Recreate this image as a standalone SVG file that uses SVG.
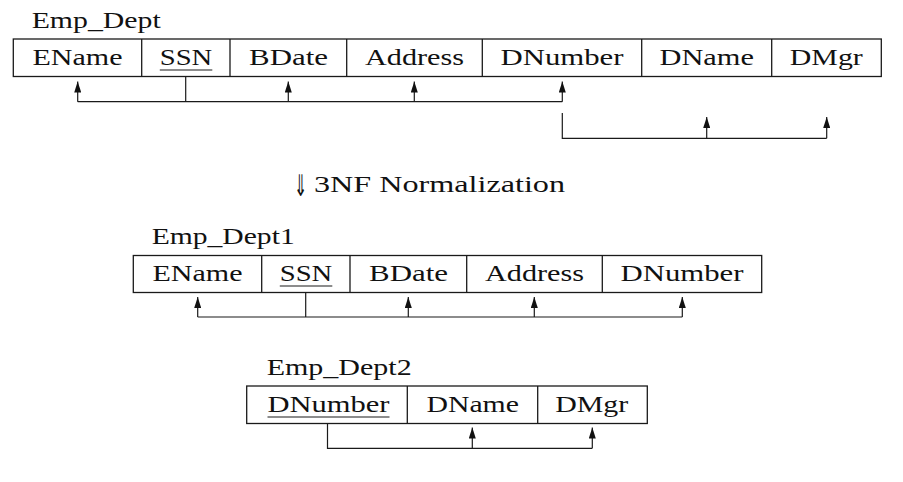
<svg xmlns="http://www.w3.org/2000/svg" width="903" height="482" viewBox="0 0 903 482">
<style>
  .cell { fill: none; stroke: #1a1a1a; stroke-width: 1.3; }
  .t { font-family: "Liberation Serif", "Times New Roman", serif; font-size: 24px; fill: #111; text-anchor: middle; }
  .lbl { font-family: "Liberation Serif", "Times New Roman", serif; font-size: 24px; fill: #111; }
  .sym { font-family: "DejaVu Sans", sans-serif; font-size: 22px; fill: #111; }
  .ul { stroke: #1a1a1a; stroke-width: 1.2; }
  .conn { fill: none; stroke: #1a1a1a; stroke-width: 1.2; }
  .arr { fill: none; stroke: #1a1a1a; stroke-width: 1.2; marker-end: url(#ah); }
</style>
<defs>
  <marker id="ah" viewBox="0 0 11 7" refX="11" refY="3.5" markerWidth="11" markerHeight="7" markerUnits="userSpaceOnUse" orient="auto">
    <path d="M0,0 L11,3.5 L0,7 z" fill="#111"/>
  </marker>
</defs>
<rect width="903" height="482" fill="#fff"/>

<g id="emp_dept">
  <text class="lbl" x="31.7" y="28.3" textLength="129" lengthAdjust="spacingAndGlyphs">Emp_Dept</text>
  <rect class="cell" x="13.3" y="39" width="868" height="37.5"/>
  <line class="cell" x1="141.7" y1="39" x2="141.7" y2="76.5"/>
  <line class="cell" x1="230" y1="39" x2="230" y2="76.5"/>
  <line class="cell" x1="346.7" y1="39" x2="346.7" y2="76.5"/>
  <line class="cell" x1="482.3" y1="39" x2="482.3" y2="76.5"/>
  <line class="cell" x1="641.7" y1="39" x2="641.7" y2="76.5"/>
  <line class="cell" x1="771.7" y1="39" x2="771.7" y2="76.5"/>
  <text class="t" x="77.5" y="65" textLength="90" lengthAdjust="spacingAndGlyphs">EName</text>
  <text class="t" x="186" y="65" textLength="52.5" lengthAdjust="spacingAndGlyphs">SSN</text>
  <line class="ul" x1="159.8" y1="70" x2="212.3" y2="70"/>
  <text class="t" x="288.5" y="65" textLength="79" lengthAdjust="spacingAndGlyphs">BDate</text>
  <text class="t" x="414.5" y="65" textLength="99" lengthAdjust="spacingAndGlyphs">Address</text>
  <text class="t" x="562" y="65" textLength="123" lengthAdjust="spacingAndGlyphs">DNumber</text>
  <text class="t" x="706.7" y="65" textLength="94.5" lengthAdjust="spacingAndGlyphs">DName</text>
  <text class="t" x="826.3" y="65" textLength="73" lengthAdjust="spacingAndGlyphs">DMgr</text>
</g>

<g id="normalization">
  <text class="sym" x="0" y="0" transform="translate(294,196) scale(0.72,1.35)">⇓</text>
  <text class="lbl" x="314" y="191.5" textLength="251" lengthAdjust="spacingAndGlyphs">3NF Normalization</text>
</g>

<g id="emp_dept1">
  <text class="lbl" x="151.7" y="243.5" textLength="143" lengthAdjust="spacingAndGlyphs">Emp_Dept1</text>
  <rect class="cell" x="133.3" y="255.5" width="628.4" height="37"/>
  <line class="cell" x1="261.7" y1="255.5" x2="261.7" y2="292.5"/>
  <line class="cell" x1="350" y1="255.5" x2="350" y2="292.5"/>
  <line class="cell" x1="466.7" y1="255.5" x2="466.7" y2="292.5"/>
  <line class="cell" x1="602.3" y1="255.5" x2="602.3" y2="292.5"/>
  <text class="t" x="197.5" y="281" textLength="90" lengthAdjust="spacingAndGlyphs">EName</text>
  <text class="t" x="306" y="281" textLength="52.5" lengthAdjust="spacingAndGlyphs">SSN</text>
  <line class="ul" x1="279.8" y1="286" x2="332.3" y2="286"/>
  <text class="t" x="408.5" y="281" textLength="79" lengthAdjust="spacingAndGlyphs">BDate</text>
  <text class="t" x="534.5" y="281" textLength="99" lengthAdjust="spacingAndGlyphs">Address</text>
  <text class="t" x="682" y="281" textLength="123" lengthAdjust="spacingAndGlyphs">DNumber</text>
</g>

<g id="emp_dept2">
  <text class="lbl" x="266.7" y="375" textLength="145" lengthAdjust="spacingAndGlyphs">Emp_Dept2</text>
  <rect class="cell" x="246.7" y="386" width="400.6" height="37.5"/>
  <line class="cell" x1="407.3" y1="386" x2="407.3" y2="423.5"/>
  <line class="cell" x1="537.7" y1="386" x2="537.7" y2="423.5"/>
  <text class="t" x="328.5" y="412" textLength="122" lengthAdjust="spacingAndGlyphs">DNumber</text>
  <line class="ul" x1="267.5" y1="417" x2="389.5" y2="417"/>
  <text class="t" x="472.7" y="412" textLength="92.5" lengthAdjust="spacingAndGlyphs">DName</text>
  <text class="t" x="591.7" y="412" textLength="73" lengthAdjust="spacingAndGlyphs">DMgr</text>
</g>

<g id="connectors">
  <polyline class="conn" points="185.7,76.5 185.7,101.7"/>
  <polyline class="conn" points="77.7,101.7 562.3,101.7"/>
  <line class="arr" x1="77.7" y1="101.7" x2="77.7" y2="81.5"/>
  <line class="arr" x1="288.3" y1="101.7" x2="288.3" y2="81.5"/>
  <line class="arr" x1="414.3" y1="101.7" x2="414.3" y2="81.5"/>
  <line class="arr" x1="562.3" y1="101.7" x2="562.3" y2="81.5"/>
  <polyline class="conn" points="562.3,113 562.3,138.3 826.7,138.3"/>
  <line class="arr" x1="706.7" y1="138.3" x2="706.7" y2="117"/>
  <line class="arr" x1="826.7" y1="138.3" x2="826.7" y2="117"/>
  <polyline class="conn" points="305.7,292.5 305.7,317"/>
  <polyline class="conn" points="197.7,317 682.3,317"/>
  <line class="arr" x1="197.7" y1="317" x2="197.7" y2="297"/>
  <line class="arr" x1="408.3" y1="317" x2="408.3" y2="297"/>
  <line class="arr" x1="534.3" y1="317" x2="534.3" y2="297"/>
  <line class="arr" x1="682.3" y1="317" x2="682.3" y2="297"/>
  <polyline class="conn" points="327.5,423.5 327.5,448.3 592.3,448.3"/>
  <line class="arr" x1="472.3" y1="448.3" x2="472.3" y2="427.5"/>
  <line class="arr" x1="592.3" y1="448.3" x2="592.3" y2="427.5"/>
</g>
</svg>
